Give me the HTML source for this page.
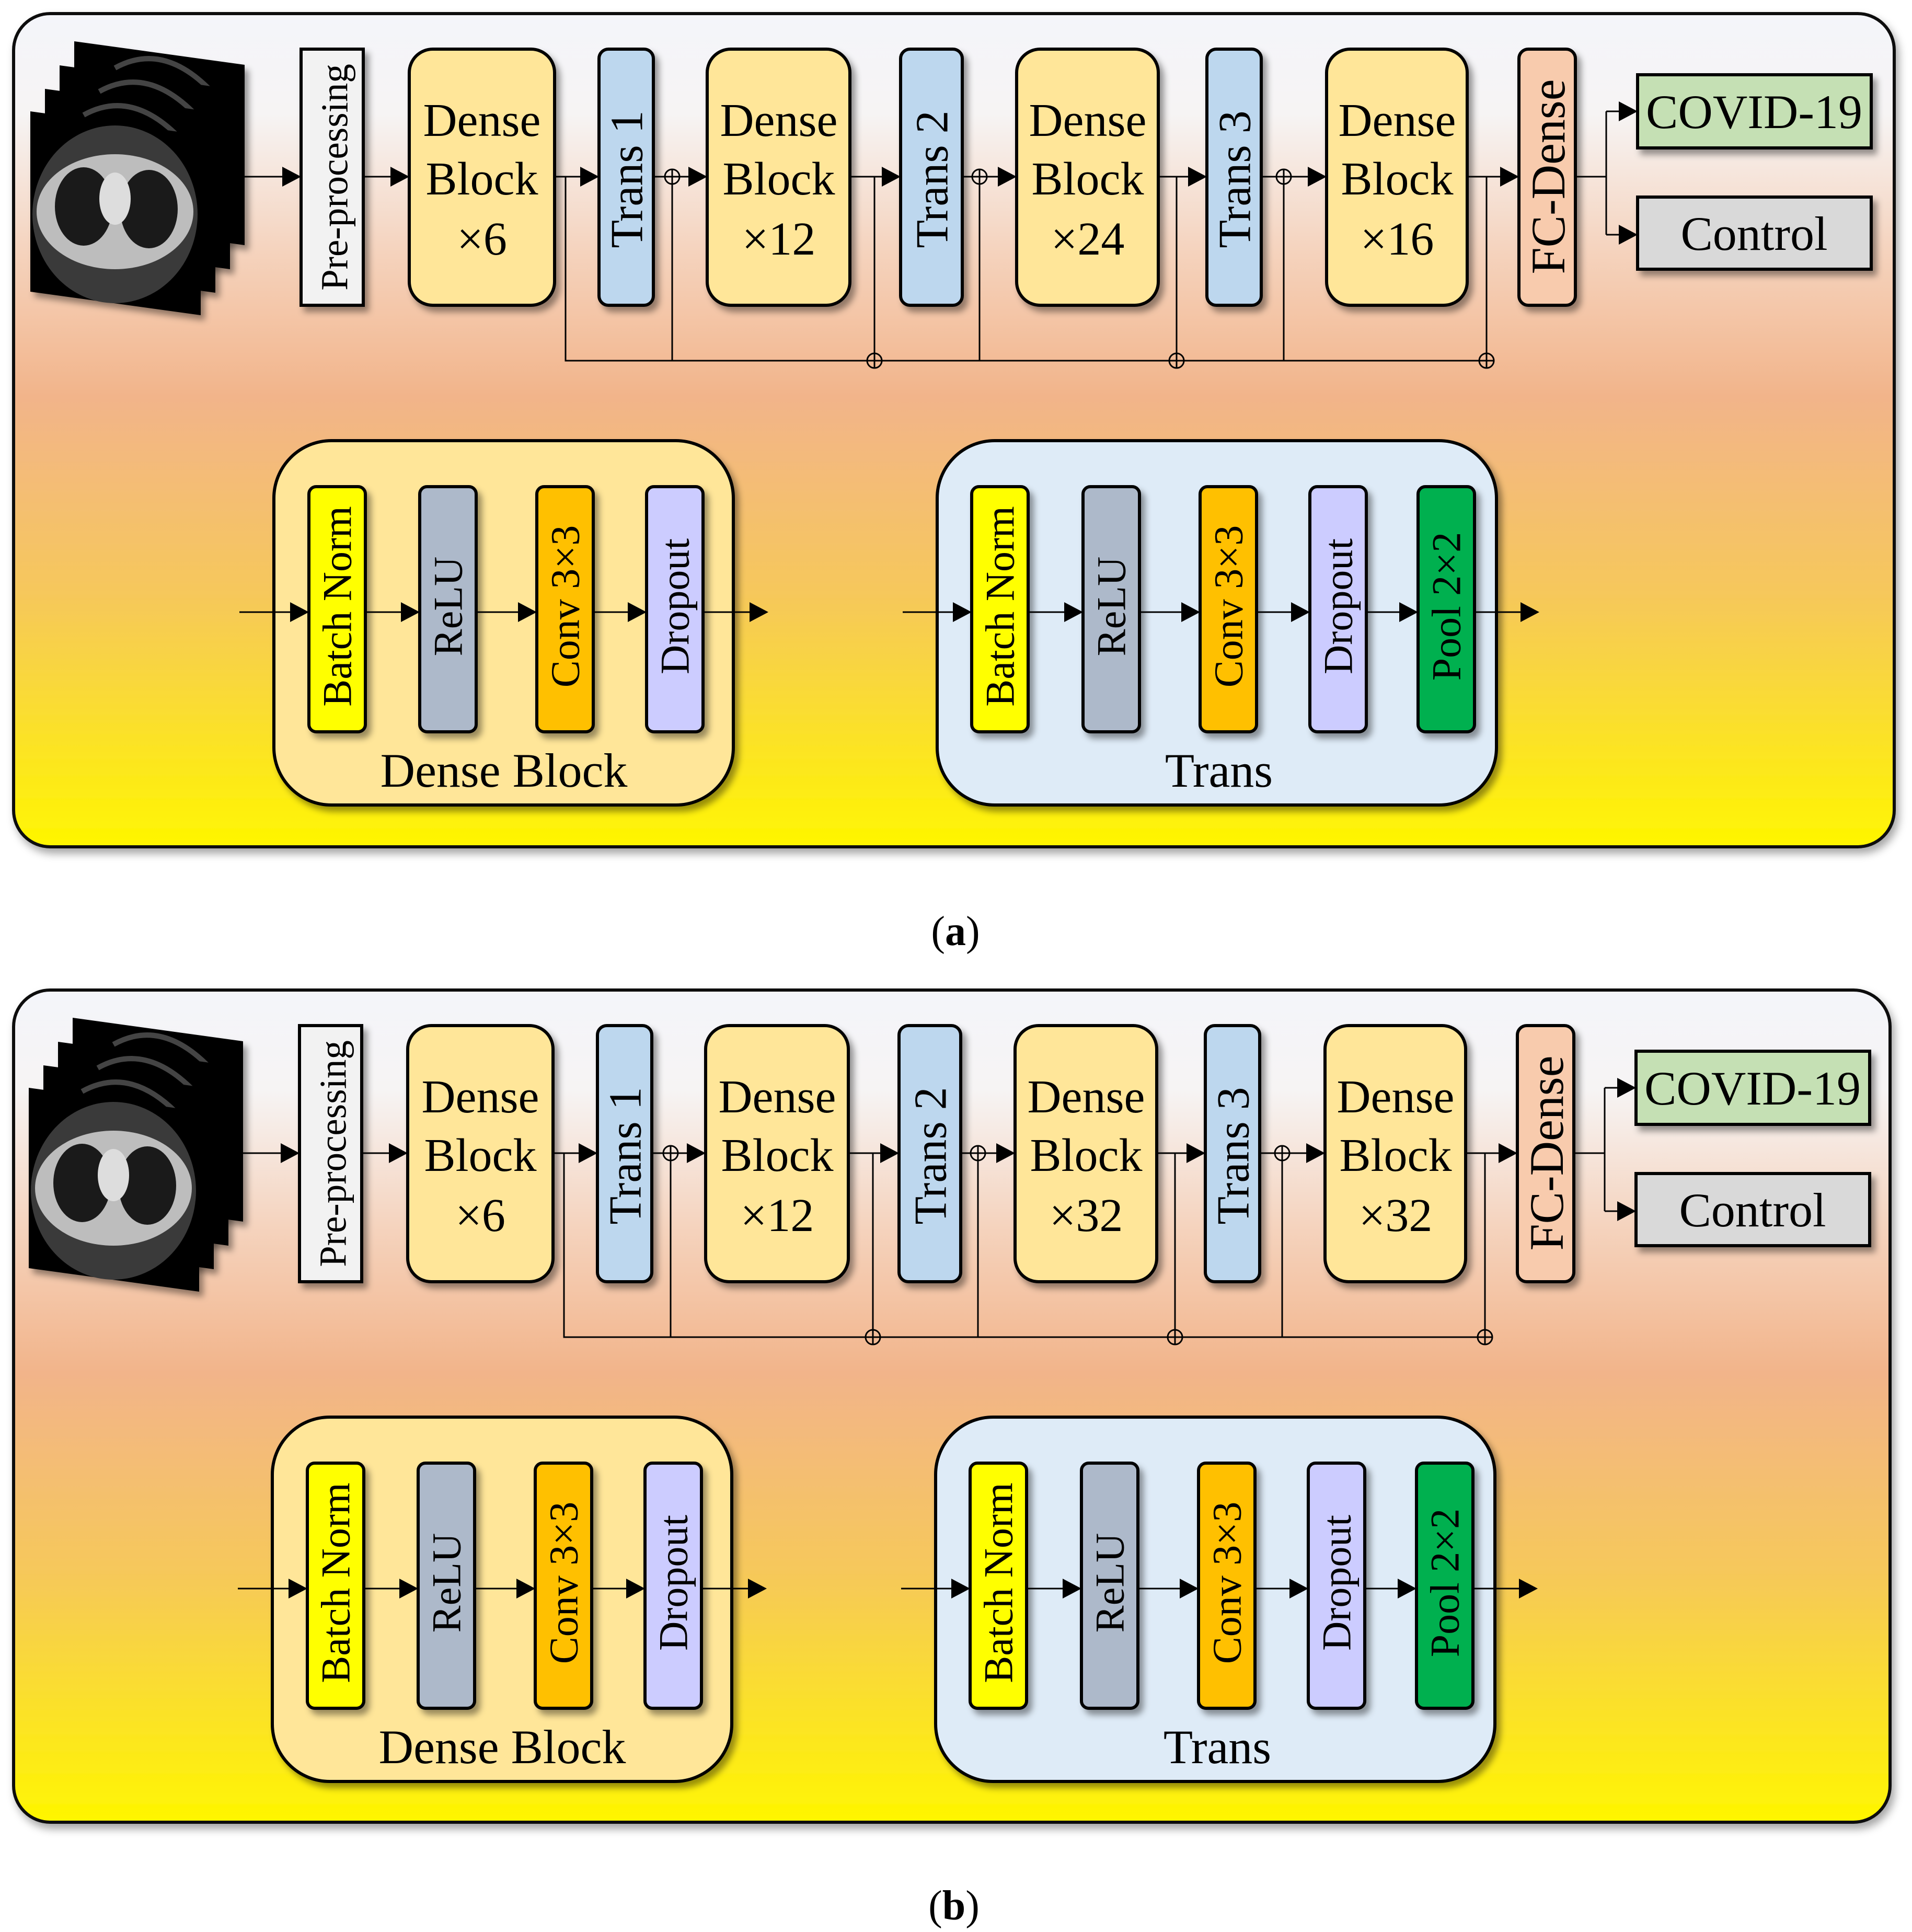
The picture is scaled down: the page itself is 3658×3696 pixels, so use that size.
<!DOCTYPE html>
<html><head><meta charset="utf-8"><style>
html,body{margin:0;padding:0;background:#fff;width:3658px;height:3696px;overflow:hidden}
text{font-family:"Liberation Serif",serif;fill:#000}
</style></head><body>
<svg width="3658" height="3696" viewBox="0 0 3658 3696" xmlns="http://www.w3.org/2000/svg">
<defs>
<linearGradient id="bg" x1="0" y1="0" x2="0" y2="1">
<stop offset="0" stop-color="#f4f5fa"/><stop offset="0.12" stop-color="#f6f4f4"/>
<stop offset="0.28" stop-color="#f5d4bf"/><stop offset="0.46" stop-color="#f2b48a"/>
<stop offset="0.7" stop-color="#f6c85a"/><stop offset="1" stop-color="#fff600"/>
</linearGradient>
<filter id="sh" x="-20%" y="-20%" width="150%" height="150%"><feDropShadow dx="8" dy="10" stdDeviation="6" flood-color="#000" flood-opacity="0.4"/></filter>
<filter id="psh" x="-5%" y="-5%" width="110%" height="110%"><feDropShadow dx="6" dy="10" stdDeviation="8" flood-color="#000" flood-opacity="0.35"/></filter>
<g id="ah"><polygon points="0,0 -36,-19 -36,19" fill="#000"/></g>
<g id="op"><circle r="14" fill="none" stroke="#000" stroke-width="3"/><line x1="-14" y1="0" x2="14" y2="0" stroke="#000" stroke-width="3"/><line x1="0" y1="-14" x2="0" y2="14" stroke="#000" stroke-width="3"/></g>
<g id="slice"><polygon points="0,0 326,45 326,390 0,345" fill="#000"/></g>
<g id="ct">
<use href="#slice" x="142" y="79" filter="url(#sh)"/>
<path d="M220,130 Q310,80 400,170" fill="none" stroke="#444" stroke-width="10"/>
<use href="#slice" x="114" y="125" filter="url(#sh)"/>
<path d="M190,175 Q280,125 370,215" fill="none" stroke="#444" stroke-width="10"/>
<use href="#slice" x="86" y="170" filter="url(#sh)"/>
<path d="M160,220 Q250,170 340,260" fill="none" stroke="#444" stroke-width="10"/>
<use href="#slice" x="58" y="213" filter="url(#sh)"/>
<ellipse cx="220" cy="410" rx="158" ry="170" fill="#3a3a3a"/>
<ellipse cx="220" cy="405" rx="150" ry="110" fill="#bdbdbd"/>
<ellipse cx="160" cy="395" rx="55" ry="75" fill="#1a1a1a"/>
<ellipse cx="285" cy="400" rx="55" ry="75" fill="#1a1a1a"/>
<ellipse cx="220" cy="380" rx="30" ry="50" fill="#ddd"/>
</g>
<g id="top">
<use href="#ct"/>
<rect x="576" y="94" width="119" height="490" fill="#f2f2f2" stroke="#000" stroke-width="6" filter="url(#sh)"/>
<rect x="783" y="94" width="278" height="490" rx="45" fill="#ffe699" stroke="#000" stroke-width="6" filter="url(#sh)"/>
<rect x="1146" y="94" width="104" height="490" rx="18" fill="#bdd7ee" stroke="#000" stroke-width="6" filter="url(#sh)"/>
<rect x="1353" y="94" width="273" height="490" rx="45" fill="#ffe699" stroke="#000" stroke-width="6" filter="url(#sh)"/>
<rect x="1723" y="94" width="118" height="490" rx="18" fill="#bdd7ee" stroke="#000" stroke-width="6" filter="url(#sh)"/>
<rect x="1945" y="94" width="271" height="490" rx="45" fill="#ffe699" stroke="#000" stroke-width="6" filter="url(#sh)"/>
<rect x="2309" y="94" width="104" height="490" rx="18" fill="#bdd7ee" stroke="#000" stroke-width="6" filter="url(#sh)"/>
<rect x="2538" y="94" width="269" height="490" rx="45" fill="#ffe699" stroke="#000" stroke-width="6" filter="url(#sh)"/>
<rect x="2906" y="94" width="108" height="490" rx="18" fill="#f8cbad" stroke="#000" stroke-width="6" filter="url(#sh)"/>
<rect x="3133" y="143" width="447" height="140" fill="#c5e0b4" stroke="#000" stroke-width="6" filter="url(#sh)"/>
<rect x="3133" y="377" width="447" height="138" fill="#d9d9d9" stroke="#000" stroke-width="6" filter="url(#sh)"/>
<text transform="translate(640,339) rotate(-90)" text-anchor="middle" dominant-baseline="central" font-size="73">Pre-processing</text>
<text transform="translate(1200,343) rotate(-90)" text-anchor="middle" dominant-baseline="central" font-size="88">Trans 1</text>
<text transform="translate(1784,343) rotate(-90)" text-anchor="middle" dominant-baseline="central" font-size="88">Trans 2</text>
<text transform="translate(2363,343) rotate(-90)" text-anchor="middle" dominant-baseline="central" font-size="88">Trans 3</text>
<text transform="translate(2962,338) rotate(-90)" text-anchor="middle" dominant-baseline="central" font-size="92">FC-Dense</text>
<text x="3356" y="245" text-anchor="middle" font-size="92">COVID-19</text>
<text x="3356" y="478" text-anchor="middle" font-size="92">Control</text>
<g stroke="#000" stroke-width="3" fill="none">
<path d="M466,338H560 M695,338H767 M1061,338H1130 M1250,338H1337 M1626,338H1707 M1841,338H1929 M2216,338H2293 M2413,338H2522 M2807,338H2890 M3014,338H3073 M3073,213V449 M3073,213H3117 M3073,449H3117"/>
<path d="M1082,338V690H2844 M1286,338V690 M1673,338V676 M1874,338V690 M2251,338V676 M2456,338V690 M2844,338V676"/>
</g>
<use href="#ah" x="576" y="338"/><use href="#ah" x="783" y="338"/><use href="#ah" x="1146" y="338"/><use href="#ah" x="1353" y="338"/><use href="#ah" x="1723" y="338"/><use href="#ah" x="1945" y="338"/><use href="#ah" x="2309" y="338"/><use href="#ah" x="2538" y="338"/><use href="#ah" x="2906" y="338"/><use href="#ah" x="3133" y="213"/><use href="#ah" x="3133" y="449"/>
<use href="#op" x="1286" y="338"/><use href="#op" x="1874" y="338"/><use href="#op" x="2456" y="338"/>
<use href="#op" x="1673" y="690"/><use href="#op" x="2251" y="690"/><use href="#op" x="2844" y="690"/>
<rect x="524" y="843" width="879" height="697" rx="110" fill="#ffe699" stroke="#000" stroke-width="6" filter="url(#sh)"/>
<rect x="1793" y="843" width="1070" height="697" rx="110" fill="#deebf7" stroke="#000" stroke-width="6" filter="url(#sh)"/>
<g stroke="#000" stroke-width="6" filter="url(#sh)">
<rect x="591" y="931" width="108" height="469" rx="14" fill="#ffff00"/>
<rect x="803" y="931" width="108" height="469" rx="14" fill="#adb9ca"/>
<rect x="1027" y="931" width="108" height="469" rx="14" fill="#ffc000"/>
<rect x="1237" y="931" width="108" height="469" rx="14" fill="#ccccff"/>
<rect x="1859" y="931" width="108" height="469" rx="14" fill="#ffff00"/>
<rect x="2072" y="931" width="108" height="469" rx="14" fill="#adb9ca"/>
<rect x="2296" y="931" width="108" height="469" rx="14" fill="#ffc000"/>
<rect x="2506" y="931" width="108" height="469" rx="14" fill="#ccccff"/>
<rect x="2713" y="931" width="108" height="469" rx="14" fill="#00b050"/>
</g>
<g font-size="78" text-anchor="middle" dominant-baseline="central">
<text transform="translate(645,1160) rotate(-90)">Batch Norm</text>
<text transform="translate(857,1160) rotate(-90)">ReLU</text>
<text transform="translate(1081,1160) rotate(-90)">Conv 3×3</text>
<text transform="translate(1291,1160) rotate(-90)">Dropout</text>
<text transform="translate(1913,1160) rotate(-90)">Batch Norm</text>
<text transform="translate(2126,1160) rotate(-90)">ReLU</text>
<text transform="translate(2350,1160) rotate(-90)">Conv 3×3</text>
<text transform="translate(2560,1160) rotate(-90)">Dropout</text>
<text transform="translate(2767,1160) rotate(-90)">Pool 2×2</text>
</g>
<g stroke="#000" stroke-width="3">
<path d="M458,1171H575 M699,1171H787 M911,1171H1011 M1135,1171H1221 M1345,1171H1454 M1727,1171H1843 M1967,1171H2056 M2180,1171H2280 M2404,1171H2490 M2614,1171H2697 M2821,1171H2929"/>
</g>
<use href="#ah" x="591" y="1171"/><use href="#ah" x="803" y="1171"/><use href="#ah" x="1027" y="1171"/><use href="#ah" x="1237" y="1171"/><use href="#ah" x="1470" y="1171"/>
<use href="#ah" x="1859" y="1171"/><use href="#ah" x="2072" y="1171"/><use href="#ah" x="2296" y="1171"/><use href="#ah" x="2506" y="1171"/><use href="#ah" x="2713" y="1171"/><use href="#ah" x="2945" y="1171"/>
<text x="964" y="1505" text-anchor="middle" font-size="92">Dense Block</text>
<text x="2332" y="1505" text-anchor="middle" font-size="92">Trans</text>
</g>
</defs>

<rect x="26" y="26" width="3598" height="1594" rx="70" fill="url(#bg)" stroke="#111" stroke-width="6" filter="url(#psh)"/>
<use href="#top"/>
<g font-size="90" text-anchor="middle">
<text x="922" y="260">Dense</text><text x="922" y="372">Block</text><text x="922" y="487">×6</text>
<text x="1490" y="260">Dense</text><text x="1490" y="372">Block</text><text x="1490" y="487">×12</text>
<text x="2081" y="260">Dense</text><text x="2081" y="372">Block</text><text x="2081" y="487">×24</text>
<text x="2673" y="260">Dense</text><text x="2673" y="372">Block</text><text x="2673" y="487">×16</text>
</g>
<text x="1828" y="1808" text-anchor="middle" font-size="80">(<tspan font-weight="bold">a</tspan>)</text>

<rect x="26" y="1894" width="3590" height="1592" rx="70" fill="url(#bg)" stroke="#111" stroke-width="6" filter="url(#psh)"/>
<g transform="translate(-3,1868)">
<use href="#top"/>
<g font-size="90" text-anchor="middle">
<text x="922" y="260">Dense</text><text x="922" y="372">Block</text><text x="922" y="487">×6</text>
<text x="1490" y="260">Dense</text><text x="1490" y="372">Block</text><text x="1490" y="487">×12</text>
<text x="2081" y="260">Dense</text><text x="2081" y="372">Block</text><text x="2081" y="487">×32</text>
<text x="2673" y="260">Dense</text><text x="2673" y="372">Block</text><text x="2673" y="487">×32</text>
</g>
</g>
<text x="1825" y="3672" text-anchor="middle" font-size="80">(<tspan font-weight="bold">b</tspan>)</text>
</svg>
</body></html>
